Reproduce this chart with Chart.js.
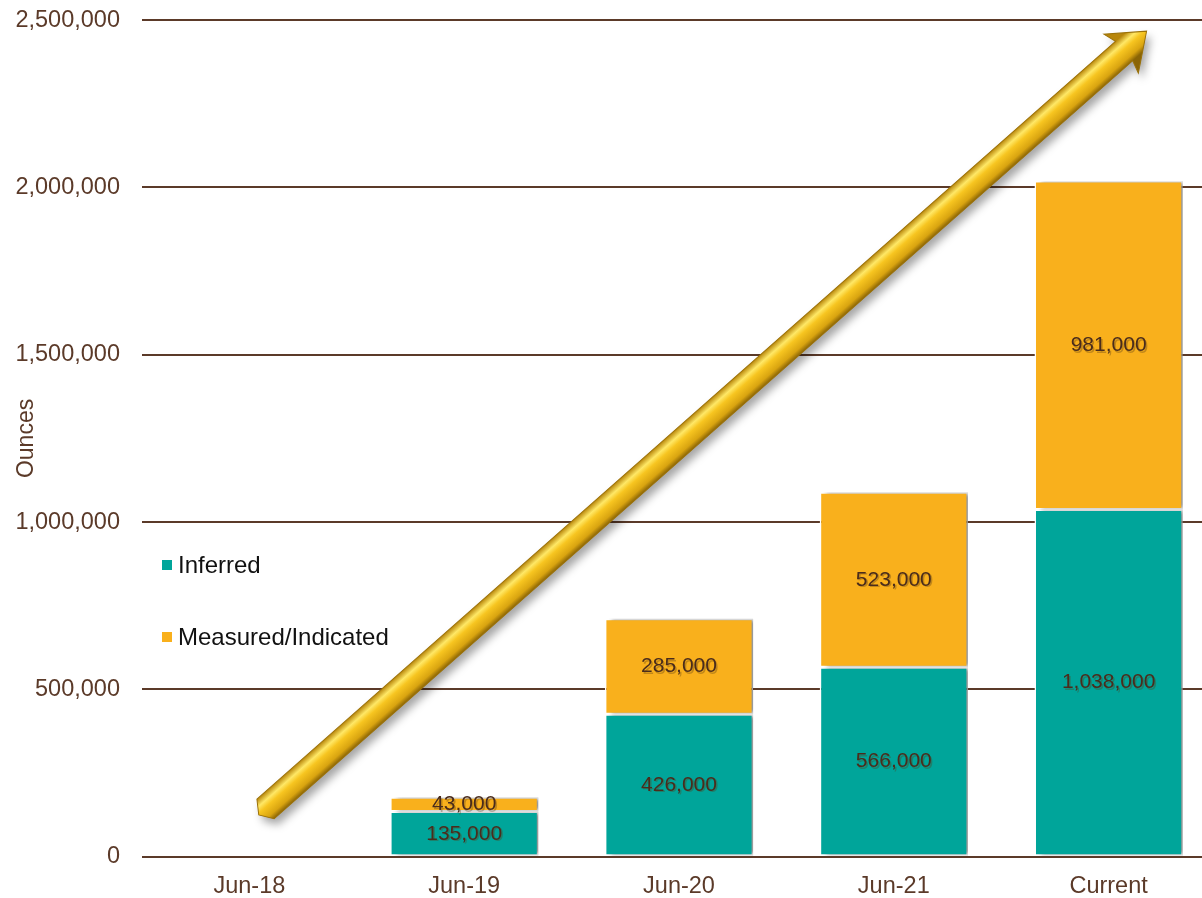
<!DOCTYPE html>
<html>
<head>
<meta charset="utf-8">
<script src="https://cdn.jsdelivr.net/npm/chart.js@4/dist/chart.umd.min.js"></script>
<style>
  html, body { margin: 0; padding: 0; background: #fff; overflow: hidden; }
  #wrap { position: relative; width: 1202px; height: 898px; overflow: hidden; }
  #chart { position: absolute; left: 0; top: -16px; }
  .leg { position: absolute; font-family: "Liberation Sans", Arial, sans-serif; font-size: 24px; line-height: 28px; color: #111; }
  .leg i { display: inline-block; width: 10px; height: 10px; margin-right: 6px; vertical-align: 3px; }
</style>
</head>
<body>
<div id="wrap">
  <canvas id="chart" width="1216" height="925"></canvas>
  <div class="leg" style="left:162px; top:551px;"><i style="background:#00A59A"></i>Inferred</div>
  <div class="leg" style="left:162px; top:623px;"><i style="background:#F9B01C"></i>Measured/Indicated</div>
</div>
<script>
// Data
const categories = ['Jun-18', 'Jun-19', 'Jun-20', 'Jun-21', 'Current'];
const inferred = [null, 135000, 426000, 566000, 1038000];
const measured = [null, 43000, 285000, 523000, 981000];
const yTicks = [0, 500000, 1000000, 1500000, 2000000, 2500000];

// Arrow (decoration) in data space: [category index, ounces]
const arrowFrom = [0.075, 143000];
const arrowTo = [4.177, 2467000];

const TEXT = '#5B3A29';
const FONT = '"Liberation Sans", Arial, sans-serif';

function fmt(n) {
    return n.toLocaleString('en-US');
}

// bar shadows
const shadowPlugin = {
    id: 'barShadow',
    beforeDatasetsDraw(chart) {
        const ctx = chart.ctx;
        ctx.save();
        ctx.shadowColor = 'rgba(0,0,0,0.4)';
        ctx.shadowOffsetX = 6;
        ctx.shadowOffsetY = 0;
        ctx.shadowBlur = 4;
    },
    afterDatasetsDraw(chart) {
        chart.ctx.restore();
    }
};

// value labels inside bars
const labelPlugin = {
    id: 'valueLabels',
    afterDatasetsDraw(chart) {
        const ctx = chart.ctx;
        ctx.save();
        ctx.font = '21px ' + FONT;
        ctx.textAlign = 'center';
        ctx.textBaseline = 'middle';
        chart.data.datasets.forEach((ds, di) => {
            chart.getDatasetMeta(di).data.forEach((bar, i) => {
                const v = ds.data[i];
                if (v == null) return;
                const y = (bar.y + bar.base) / 2;
                ctx.fillStyle = 'rgba(90,60,20,0.35)';
                ctx.fillText(fmt(v), bar.x + 1.5, y + 1.5);
                ctx.fillStyle = '#4A2C1C';
                ctx.fillText(fmt(v), bar.x, y);
            });
        });
        ctx.restore();
    }
};

// golden arrow
const arrowPlugin = {
    id: 'arrow',
    afterDatasetsDraw(chart) {
        const xs = chart.scales.x, ys = chart.scales.y, ctx = chart.ctx;
        const x0 = xs.getPixelForValue(arrowFrom[0]), y0 = ys.getPixelForValue(arrowFrom[1]);
        const x1 = xs.getPixelForValue(arrowTo[0]), y1 = ys.getPixelForValue(arrowTo[1]);
        const len = Math.hypot(x1 - x0, y1 - y0);
        const ang = Math.atan2(y1 - y0, x1 - x0);
        const hw = 13, headLen = 30, headW = 26;
        ctx.save();
        ctx.translate(x0, y0);
        ctx.rotate(ang);
        ctx.beginPath();
        ctx.moveTo(0, -hw);
        ctx.lineTo(len - headLen, -hw);
        ctx.lineTo(len - headLen - 4, -headW);
        ctx.lineTo(len, 0);
        ctx.lineTo(len - headLen - 4, headW);
        ctx.lineTo(len - headLen, hw);
        ctx.lineTo(0, hw);
        ctx.lineTo(-9, 0);
        ctx.closePath();
        const g = ctx.createLinearGradient(0, -hw, 0, hw);
        g.addColorStop(0, '#B8860B');
        g.addColorStop(0.25, '#FFE866');
        g.addColorStop(0.45, '#F7C520');
        g.addColorStop(0.8, '#D9A410');
        g.addColorStop(1, '#8A6405');
        ctx.shadowColor = 'rgba(0,0,0,0.35)';
        ctx.shadowBlur = 8;
        ctx.shadowOffsetX = 4;
        ctx.shadowOffsetY = 6;
        ctx.fillStyle = g;
        ctx.fill();
        ctx.shadowColor = 'transparent';
        ctx.lineWidth = 1;
        ctx.strokeStyle = '#9C7208';
        ctx.stroke();
        ctx.restore();
    }
};

new Chart(document.getElementById('chart'), {
    type: 'bar',
    data: {
        labels: categories,
        datasets: [
            {
                label: 'Inferred',
                data: inferred,
                backgroundColor: '#00A59A',
                borderColor: '#ffffff',
                borderWidth: 1.5,
                borderSkipped: false
            },
            {
                label: 'Measured/Indicated',
                data: measured,
                backgroundColor: '#F9B01C',
                borderColor: '#ffffff',
                borderWidth: 1.5,
                borderSkipped: false
            }
        ]
    },
    options: {
        responsive: false,
        animation: false,
        events: [],
        barPercentage: 0.69,
        categoryPercentage: 1,
        layout: { padding: { left: 0, right: 0, top: 3, bottom: 0 } },
        plugins: {
            legend: { display: false },
            tooltip: { enabled: false }
        },
        scales: {
            x: {
                stacked: true,
                grid: { display: false },
                border: { display: false },
                ticks: { color: TEXT, font: { family: FONT, size: 23.5 }, padding: 8 }
            },
            y: {
                stacked: true,
                min: 0,
                max: 2500000,
                afterFit: s => { s.width = 142; },
                afterBuildTicks: s => { s.ticks = yTicks.map(v => ({ value: v })); },
                grid: { color: '#5B3A29', lineWidth: 2, drawTicks: false },
                border: { display: false },
                ticks: {
                    color: TEXT,
                    font: { family: FONT, size: 23.5 },
                    padding: 22,
                    callback: v => fmt(v)
                },
                title: {
                    display: true,
                    text: 'Ounces',
                    color: TEXT,
                    font: { family: FONT, size: 23 },
                    padding: { top: 13, bottom: 0 }
                }
            }
        }
    },
    plugins: [shadowPlugin, labelPlugin, arrowPlugin]
});
</script>
</body>
</html>
